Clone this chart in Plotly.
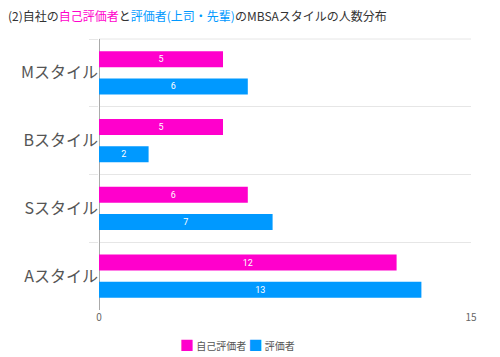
import plotly.graph_objects as go

categories = ["Mスタイル", "Bスタイル", "Sスタイル", "Aスタイル"]
self_eval = [5, 5, 6, 12]
evaluator = [6, 2, 7, 13]
series_names = ["自己評価者", "評価者"]
colors = ["#FF00CC", "#0099FF"]

fig = go.Figure()
for name, vals, col in zip(series_names, [self_eval, evaluator], colors):
    fig.add_trace(go.Bar(
        y=categories, x=vals, name=name, orientation="h",
        marker=dict(color=col, line=dict(width=0)),
        text=[str(v) for v in vals], textposition="inside",
        insidetextanchor="middle", textangle=0,
        textfont=dict(color="white", size=9, family="Roboto, Arial, sans-serif"),
    ))

title_text = ("(2)自社の<span style='color:#FF00CC'>自己評価者</span>と"
              "<span style='color:#0099FF'>評価者(上司・先輩)</span>のMBSAスタイルの人数分布")

legend_text = ("<span style='color:%s;font-size:14px'>■</span> %s "
               "<span style='color:%s;font-size:14px'>■</span> %s"
               % (colors[0], series_names[0], colors[1], series_names[1]))

# page body has an 8px margin, so the figure is sized to fit the 500x357 window
fig.update_layout(
    width=492, height=349,
    margin=dict(l=91, r=29, t=31, b=47, autoexpand=False),
    paper_bgcolor="white", plot_bgcolor="white",
    barmode="group", bargap=0.2, bargroupgap=0.41,
    font=dict(family="Noto Sans CJK JP, sans-serif", color="#444"),
    title=dict(text=title_text, x=0, xanchor="left", xref="container",
               y=0.974, yref="container", yanchor="middle", pad=dict(t=0, l=0, b=0, r=0),
               font=dict(size=12, color="#333")),
    showlegend=False,
    xaxis=dict(range=[0, 15], dtick=15, showgrid=True, gridcolor="#e6e6e6",
               zeroline=True, zerolinecolor="#aaaaaa", zerolinewidth=1,
               tickfont=dict(size=10, color="#666"), fixedrange=True, automargin=False),
    yaxis=dict(categoryorder="array", categoryarray=categories, autorange="reversed",
               tickson="boundaries", showgrid=True, gridcolor="#e6e6e6",
               ticks="outside", ticklen=9, tickcolor="#e6e6e6",
               tickfont=dict(size=16, color="#555"), showline=False, automargin=False),
    annotations=[dict(text=legend_text, xref="paper", yref="paper", x=0.212, xanchor="left",
                      y=-0.125, yanchor="middle", showarrow=False,
                      font=dict(size=10, color="#555"))],
    shapes=[dict(type="line", xref="paper", yref="paper", x0=0, x1=1, y0=1, y1=1,
                 line=dict(color="#e6e6e6", width=1), layer="below")],
)

fig.write_html("out.html")
